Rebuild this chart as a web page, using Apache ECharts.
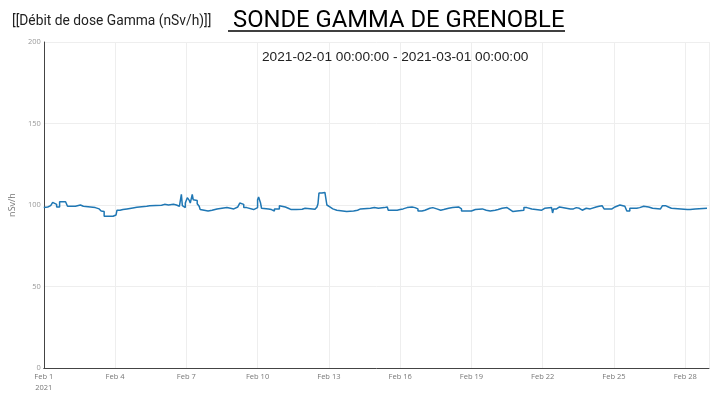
<!DOCTYPE html>
<html>
<head>
<meta charset="utf-8">
<script src="https://cdn.jsdelivr.net/npm/echarts@6/dist/echarts.min.js"></script>
<style>
html,body{margin:0;padding:0;background:#fff;}
#chart{width:717px;height:393px;}
</style>
</head>
<body>
<div id="chart"></div>
<script>
// Hours elapsed since 2021-02-01 00:00:00
var hours = [0,2,4,7,9,11,13,16,22,24,32,33,37,40,52,54,56,58,59,61,70,73,74,77,80,84,90,94,104,107,
  108,119,122,126,131,134,137,139,140,141,143,145,147,148,150,151,153,155,157,158,160,166,170,175,185,187,192,196,198,200,202,205,212,214,216,217,218,219,220,
  222,227,230,233,238,240,244,247,250,252,255,257,261,262,264,274,276,277,278,281,282,284,286,287,289,292,296,306,313,317,320,330,
  334,338,344,345,347,348,357,360,363,367,372,375,378,382,385,390,393,397,401,404,409,413,419,422,429,432,436,
  443,447,451,456,459,463,465,468,471,474,478,485,488,490,493,503,506,513,514,515,518,521,532,535,538,541,544,548,552,
  558,561,564,566,569,571,574,577,579,582,584,587,589,592,599,602,606,608,611,615,623,625,628,631,634,650,653,658,670];
var values = [98.4,98.8,99.6,100.8,101.6,100.4,98.8,102,100.8,99.2,99.6,100,99.2,98.4,98.4,97.6,97.2,96.3,96,93.1,93.9,95.1,96.8,97.2,97.6,98.2,98.6,99.2,99.6,100,
  99.8,100.4,100,100.4,100,99.2,98.8,106.5,99.6,98.4,101.2,104.5,102.8,101.2,106.5,103.2,102.8,100.8,99.2,97.2,96.3,96.8,97.6,98.4,98.4,97.6,98.8,99.6,101.2,100.4,98.4,97.2,96.8,98.4,103.2,104.9,104,101.2,98,
  97.6,97.2,96.3,97.6,99.6,98.8,98,97.2,97.6,97.2,98,97.4,97.6,98,97.4,97.6,98.8,100.8,107.3,106.5,107.7,106.9,100,98.8,97.6,96.8,96,96.3,96.8,97.6,98,98.4,
  98,98.4,98,98.8,97.6,96.8,97.2,97.6,98.4,98.8,98.4,97.6,96.3,96.8,98,98.4,97.6,96.8,97.2,98,98.4,98.8,97.6,96.3,96.3,97.2,97.6,
  96.8,96.3,96.8,97.2,98,98.8,98.4,97.2,96,96.3,96.8,98.4,99.2,97.6,96.8,98,98.4,98,95.1,97.6,98.8,97.6,97.6,98.4,98,96.8,98,97.6,98.8,
  99.2,99.6,98.4,97.6,96.8,97.6,98.8,99.6,100,99.6,99.2,98.4,96.3,98,98.4,99.2,99.6,98.8,98,97.6,97.6,99.6,98.8,98,97.2,97.2,97.6,98,98.4];
var xTickLabels = ['Feb 1\n2021','Feb 4','Feb 7','Feb 10','Feb 13','Feb 16','Feb 19','Feb 22','Feb 25','Feb 28'];
var yTicks = [0,50,100,150,200];

var data = hours.map(function(h,i){return [h, values[i]];});

var chart = echarts.init(document.getElementById('chart'), null, {renderer:'canvas'});
chart.setOption({
  animation:false,
  backgroundColor:'#fff',
  title:[
    {text:'[[Débit de dose Gamma (nSv/h)]]', left:7, top:10, textStyle:{fontFamily:'Roboto', fontSize:13.8, fontWeight:'normal', color:'#222'}},
    {text:'SONDE GAMMA DE GRENOBLE', left:228, top:4, textStyle:{fontFamily:'Roboto', fontSize:23.8, fontWeight:'normal', color:'#000'}},
    {text:'2021-02-01 00:00:00 - 2021-03-01 00:00:00', left:257, top:45, textStyle:{fontFamily:'Liberation Sans', fontSize:13.7, fontWeight:'normal', color:'#222'}}
  ],
  graphic:[
    {type:'line', shape:{x1:228, y1:31, x2:565, y2:31}, style:{stroke:'#000', lineWidth:1.5}}
  ],
  grid:{left:43, right:8, top:42, bottom:23, containLabel:false},
  xAxis:{
    type:'value', min:0, max:672, interval:72,
    axisLine:{show:true, lineStyle:{color:'#444', width:1}},
    axisTick:{show:false},
    splitLine:{show:true, lineStyle:{color:'#eee', width:1}},
    axisLabel:{
      fontFamily:'Open Sans', fontSize:7.5, color:'#777', margin:3, lineHeight:11,
      showMaxLabel:false,
      formatter:function(v){var i=Math.round(v/72); return xTickLabels[i]||'';}
    }
  },
  yAxis:{
    type:'value', min:yTicks[0], max:yTicks[yTicks.length-1], interval:50,
    name:'nSv/h', nameLocation:'middle', nameGap:20, nameRotate:90,
    nameTextStyle:{fontFamily:'Open Sans', fontSize:9, color:'#777'},
    axisLine:{show:true, lineStyle:{color:'#444', width:1}},
    axisTick:{show:false},
    splitLine:{show:true, lineStyle:{color:'#eee', width:1}},
    axisLabel:{fontFamily:'Open Sans', fontSize:7.5, color:'#999', margin:3}
  },
  series:[{
    type:'line', data:data, step:'end', showSymbol:false,
    lineStyle:{color:'#1f77b4', width:1.5},
    itemStyle:{color:'#1f77b4'}
  }]
});
</script>
</body>
</html>
